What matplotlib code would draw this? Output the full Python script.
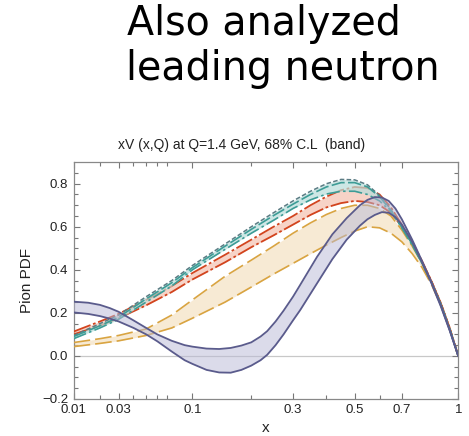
import numpy as np
import matplotlib
matplotlib.use('Agg')
from matplotlib import pyplot as plt

# x grid for the three upper bands
xs = [0.01, 0.02, 0.03, 0.05, 0.075, 0.1, 0.15, 0.2, 0.25, 0.3, 0.35, 0.4,
      0.45, 0.5, 0.55, 0.6, 0.65, 0.7, 0.75, 0.8, 0.85, 0.9, 0.95, 1.0]

teal_hi = [0.095, 0.15, 0.19, 0.275, 0.35, 0.42, 0.52, 0.60, 0.665, 0.72, 0.765, 0.80,
           0.82, 0.818, 0.795, 0.745, 0.68, 0.60, 0.52, 0.43, 0.34, 0.24, 0.125, 0.0]
teal_mid = [0.09, 0.14, 0.18, 0.265, 0.34, 0.41, 0.51, 0.588, 0.652, 0.705, 0.75, 0.785,
            0.805, 0.805, 0.785, 0.74, 0.675, 0.598, 0.52, 0.43, 0.34, 0.24, 0.125, 0.0]
teal_lo = [0.08, 0.13, 0.17, 0.25, 0.325, 0.40, 0.495, 0.57, 0.63, 0.685, 0.725, 0.752,
           0.765, 0.765, 0.75, 0.72, 0.67, 0.595, 0.515, 0.43, 0.34, 0.24, 0.125, 0.0]

red_hi = [0.113, 0.16, 0.195, 0.26, 0.325, 0.385, 0.47, 0.54, 0.60, 0.65, 0.70, 0.74,
          0.77, 0.785, 0.78, 0.75, 0.69, 0.61, 0.53, 0.44, 0.345, 0.245, 0.13, 0.0]
red_lo = [0.10, 0.14, 0.175, 0.235, 0.297, 0.355, 0.435, 0.505, 0.56, 0.61, 0.655, 0.69,
          0.71, 0.72, 0.715, 0.70, 0.665, 0.60, 0.525, 0.435, 0.345, 0.245, 0.13, 0.0]

orange_hi = [0.062, 0.08, 0.095, 0.125, 0.19, 0.26, 0.37, 0.445, 0.51, 0.57, 0.618, 0.657,
             0.685, 0.70, 0.70, 0.685, 0.65, 0.585, 0.51, 0.43, 0.34, 0.24, 0.125, 0.0]
orange_lo = [0.043, 0.058, 0.07, 0.095, 0.13, 0.175, 0.25, 0.32, 0.38, 0.43, 0.475, 0.515,
             0.55, 0.58, 0.60, 0.595, 0.57, 0.53, 0.475, 0.41, 0.33, 0.235, 0.125, 0.0]

# x grid for the oscillating band
xp = [0.01, 0.015, 0.02, 0.025, 0.03, 0.04, 0.05, 0.06, 0.075, 0.09, 0.1, 0.12, 0.14,
      0.16, 0.18, 0.2, 0.22, 0.235, 0.255, 0.275, 0.3, 0.32, 0.37, 0.42, 0.47, 0.52,
      0.55, 0.58, 0.61, 0.64, 0.67, 0.7, 0.75, 0.8, 0.85, 0.9, 0.95, 1.0]
purple_hi = [0.252, 0.247, 0.237, 0.222, 0.205, 0.165, 0.13, 0.10, 0.07, 0.05, 0.043,
             0.034, 0.032, 0.037, 0.048, 0.063, 0.09, 0.115, 0.16, 0.21, 0.275, 0.33,
             0.46, 0.565, 0.64, 0.70, 0.725, 0.738, 0.736, 0.72, 0.685, 0.635, 0.54,
             0.44, 0.34, 0.235, 0.12, 0.0]
purple_lo = [0.202, 0.195, 0.185, 0.173, 0.16, 0.13, 0.10, 0.068, 0.02, -0.02, -0.037,
             -0.065, -0.077, -0.078, -0.065, -0.045, -0.02, 0.005, 0.05, 0.10, 0.165,
             0.213, 0.337, 0.45, 0.54, 0.605, 0.635, 0.655, 0.668, 0.665, 0.645, 0.61,
             0.53, 0.435, 0.335, 0.23, 0.118, 0.0]

major_x = [0.01, 0.03, 0.1, 0.3, 0.5, 0.7, 1]
major_lbl = ['0.01', '0.03', '0.1', '0.3', '0.5', '0.7', '1']
minor_x = [0.02, 0.04, 0.05, 0.06, 0.07, 0.2, 0.4, 0.6]

plt.rcParams['font.family'] = ['Liberation Sans', 'DejaVu Sans']

fig = plt.figure(figsize=(4.69, 4.36), dpi=100)
ax = fig.add_axes([0.157, 0.085, 0.820, 0.543])

pw = 0.35
ax.set_xscale('function', functions=(lambda v: np.sign(v) * np.abs(v) ** pw,
                                     lambda v: np.sign(v) * np.abs(v) ** (1 / pw)))

ax.axhline(0, color='#c8c8c8', lw=0.9, zorder=1)

# orange band
ax.fill_between(xs, orange_lo, orange_hi, color='#f3dcb8', alpha=0.6, lw=0, zorder=2)
ax.plot(xs, orange_hi, color='#d9a441', lw=1.2, dashes=(10, 3), zorder=3)
ax.plot(xs, orange_lo, color='#d9a441', lw=1.2, dashes=(10, 3), zorder=3)

# red band
ax.fill_between(xs, red_lo, red_hi, color='#f4bca9', alpha=0.65, lw=0, zorder=4)
ax.plot(xs, red_hi, color='#d2441e', lw=1.3, dashes=(10, 1.5, 1.5, 1.5), zorder=5)
ax.plot(xs, red_lo, color='#d2441e', lw=1.3, dashes=(10, 1.5, 1.5, 1.5), zorder=5)

# teal band
ax.fill_between(xs, teal_lo, teal_hi, color='#b8dedb', alpha=0.7, lw=0, zorder=6)
ax.plot(xs, teal_hi, color='#5b7c84', lw=1.1, dashes=(3, 1.5), zorder=7)
ax.plot(xs, teal_mid, color='#3d9c96', lw=1.2, dashes=(8, 2), zorder=7)
ax.plot(xs, teal_lo, color='#3d9c96', lw=1.2, dashes=(8, 2, 1.5, 2), zorder=7)

# purple band
ax.fill_between(xp, purple_lo, purple_hi, color='#b9b9d6', alpha=0.5, lw=0, zorder=8)
ax.plot(xp, purple_hi, color='#5a5b8c', lw=1.3, zorder=9)
ax.plot(xp, purple_lo, color='#5a5b8c', lw=1.3, zorder=9)

ax.set_xlim(0.01, 1)
ax.set_ylim(-0.2, 0.9)
ax.set_xticks(major_x)
ax.set_xticklabels(major_lbl)
ax.set_xticks(minor_x, minor=True)
ax.set_yticks([-0.2, 0.0, 0.2, 0.4, 0.6, 0.8])
ax.set_yticklabels(['\u22120.2', '0.0', '0.2', '0.4', '0.6', '0.8'])
ax.set_yticks(np.arange(-0.15, 0.9, 0.05), minor=True)
ax.tick_params(which='both', direction='in', top=True, right=True, color='#777777',
               labelsize=9.5, labelcolor='#222222')
ax.tick_params(which='major', length=4.5, width=0.8, pad=4)
ax.tick_params(which='minor', length=2.8, width=0.8)
for s in ax.spines.values():
    s.set_color('#888888')
    s.set_linewidth(0.9)

ax.set_xlabel('x', fontsize=11, color='#222222', labelpad=3)
ax.set_ylabel('Pion PDF', fontsize=11, color='#222222', labelpad=6)

fig.text(242 / 469, 1 - 149 / 436, 'xV (x,Q) at Q=1.4 GeV, 68% C.L  (band)', ha='center',
         va='baseline', fontsize=10, color='#222222')

fig.text(127 / 469, 1 - 35.5 / 436, 'Also analyzed', ha='left', va='baseline',
         fontsize=28.5, family=['DejaVu Sans'], color='black')
fig.text(126 / 469, 1 - 80 / 436, 'leading neutron', ha='left', va='baseline',
         fontsize=28.5, family=['DejaVu Sans'], color='black')

plt.savefig('out.png', dpi=100)
